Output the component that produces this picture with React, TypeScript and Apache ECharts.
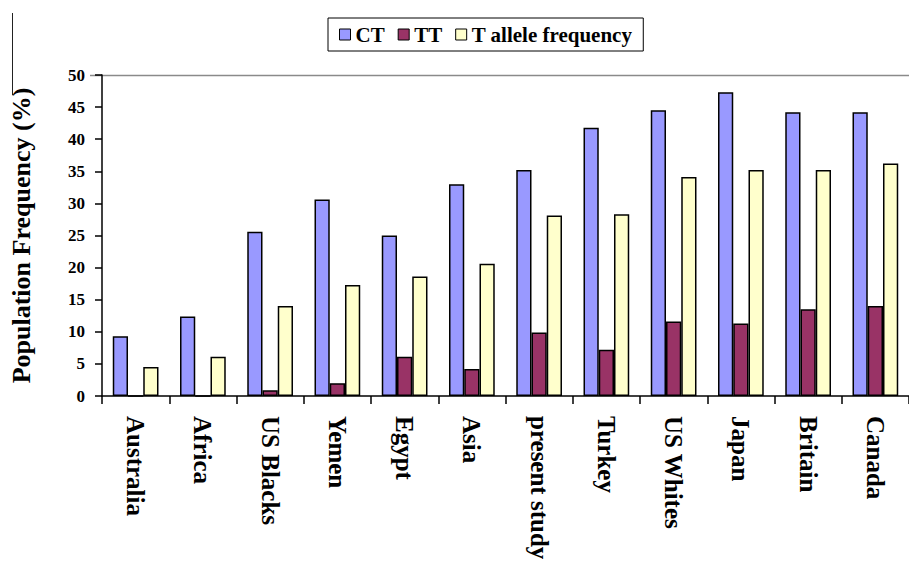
import React, { useEffect, useRef } from "react";
import * as echarts from "echarts";

const categories = [
  "Australia", "Africa", "US Blacks", "Yemen", "Egypt", "Asia",
  "present study", "Turkey", "US Whites", "Japan", "Britain", "Canada",
];
const seriesNames = ["CT", "TT", "T allele frequency"];
const ctValues = [9.3, 12.4, 25.6, 30.6, 25.0, 33.0, 35.2, 41.8, 44.5, 47.3, 44.2, 44.2];
const ttValues = [0, 0, 0.9, 2.0, 6.1, 4.2, 9.9, 7.2, 11.6, 11.3, 13.5, 14.0];
const tAlleleValues = [4.5, 6.1, 14.0, 17.3, 18.6, 20.6, 28.1, 28.3, 34.1, 35.2, 35.2, 36.2];
const yTitle = "Population Frequency (%)";

const FONT = "'Liberation Serif', 'Times New Roman', serif";
const colors = ["#9999FF", "#993366", "#FFFFCC"];

export default function App() {
  const ref = useRef<HTMLDivElement>(null);
  useEffect(() => {
    if (!ref.current) return;
    const chart = echarts.init(ref.current, null, { renderer: "svg" });
    const data = [ctValues, ttValues, tAlleleValues];
    chart.setOption({
      animation: false,
      backgroundColor: "#ffffff",
      legend: {
        left: 328,
        top: 18,
        padding: [6, 11, 6, 11],
        borderColor: "#000",
        borderWidth: 1,
        itemWidth: 11,
        itemHeight: 11,
        itemGap: 13,
        icon: "rect",
        itemStyle: { borderColor: "#000", borderWidth: 1 },
        textStyle: { fontFamily: FONT, fontWeight: "bold", fontSize: 21, color: "#000" },
        data: seriesNames,
      },
      grid: { left: 97, top: 75, right: -12, bottom: 170 },
      xAxis: {
        type: "category",
        data: categories,
        axisLine: { lineStyle: { color: "#000", width: 1.5 } },
        axisTick: { show: true, length: 8, lineStyle: { color: "#000", width: 1.5 }, alignWithLabel: false, interval: 0 },
        axisLabel: {
          interval: 0,
          rotate: -90,
          margin: 20,
          fontFamily: FONT,
          fontWeight: "bold",
          fontSize: 25,
          color: "#000",
        },
      },
      yAxis: {
        type: "value",
        min: 0,
        max: 50,
        interval: 5,
        name: yTitle,
        nameLocation: "middle",
        nameGap: 68,
        nameTextStyle: { fontFamily: FONT, fontWeight: "bold", fontSize: 26, color: "#000" },
        axisLine: { show: true, lineStyle: { color: "#000", width: 1.5 } },
        axisTick: { show: true, length: 7, lineStyle: { color: "#000", width: 1.5 } },
        splitLine: { show: false },
        axisLabel: { margin: 17, fontFamily: FONT, fontWeight: "bold", fontSize: 17, color: "#000" },
      },
      series: seriesNames.map((name, i) => ({
        name,
        type: "bar",
        data: data[i],
        barGap: "0%",
        barCategoryGap: "32%",
        itemStyle: { color: colors[i], borderColor: "#000", borderWidth: 1.5 },
      })),
      graphic: [
        {
          type: "line",
          shape: { x1: 90, y1: 75.5, x2: 909, y2: 75.5 },
          style: { stroke: "#8a8a8a", lineWidth: 1.5 },
          z: 0,
        },
        {
          type: "line",
          shape: { x1: 12.5, y1: 13, x2: 12.5, y2: 95 },
          style: { stroke: "#222", lineWidth: 1 },
        },
      ],
    });
    return () => chart.dispose();
  }, []);
  return (
    <div
      ref={ref}
      style={{ position: "fixed", left: 0, top: 0, width: 909, height: 566 }}
    />
  );
}
